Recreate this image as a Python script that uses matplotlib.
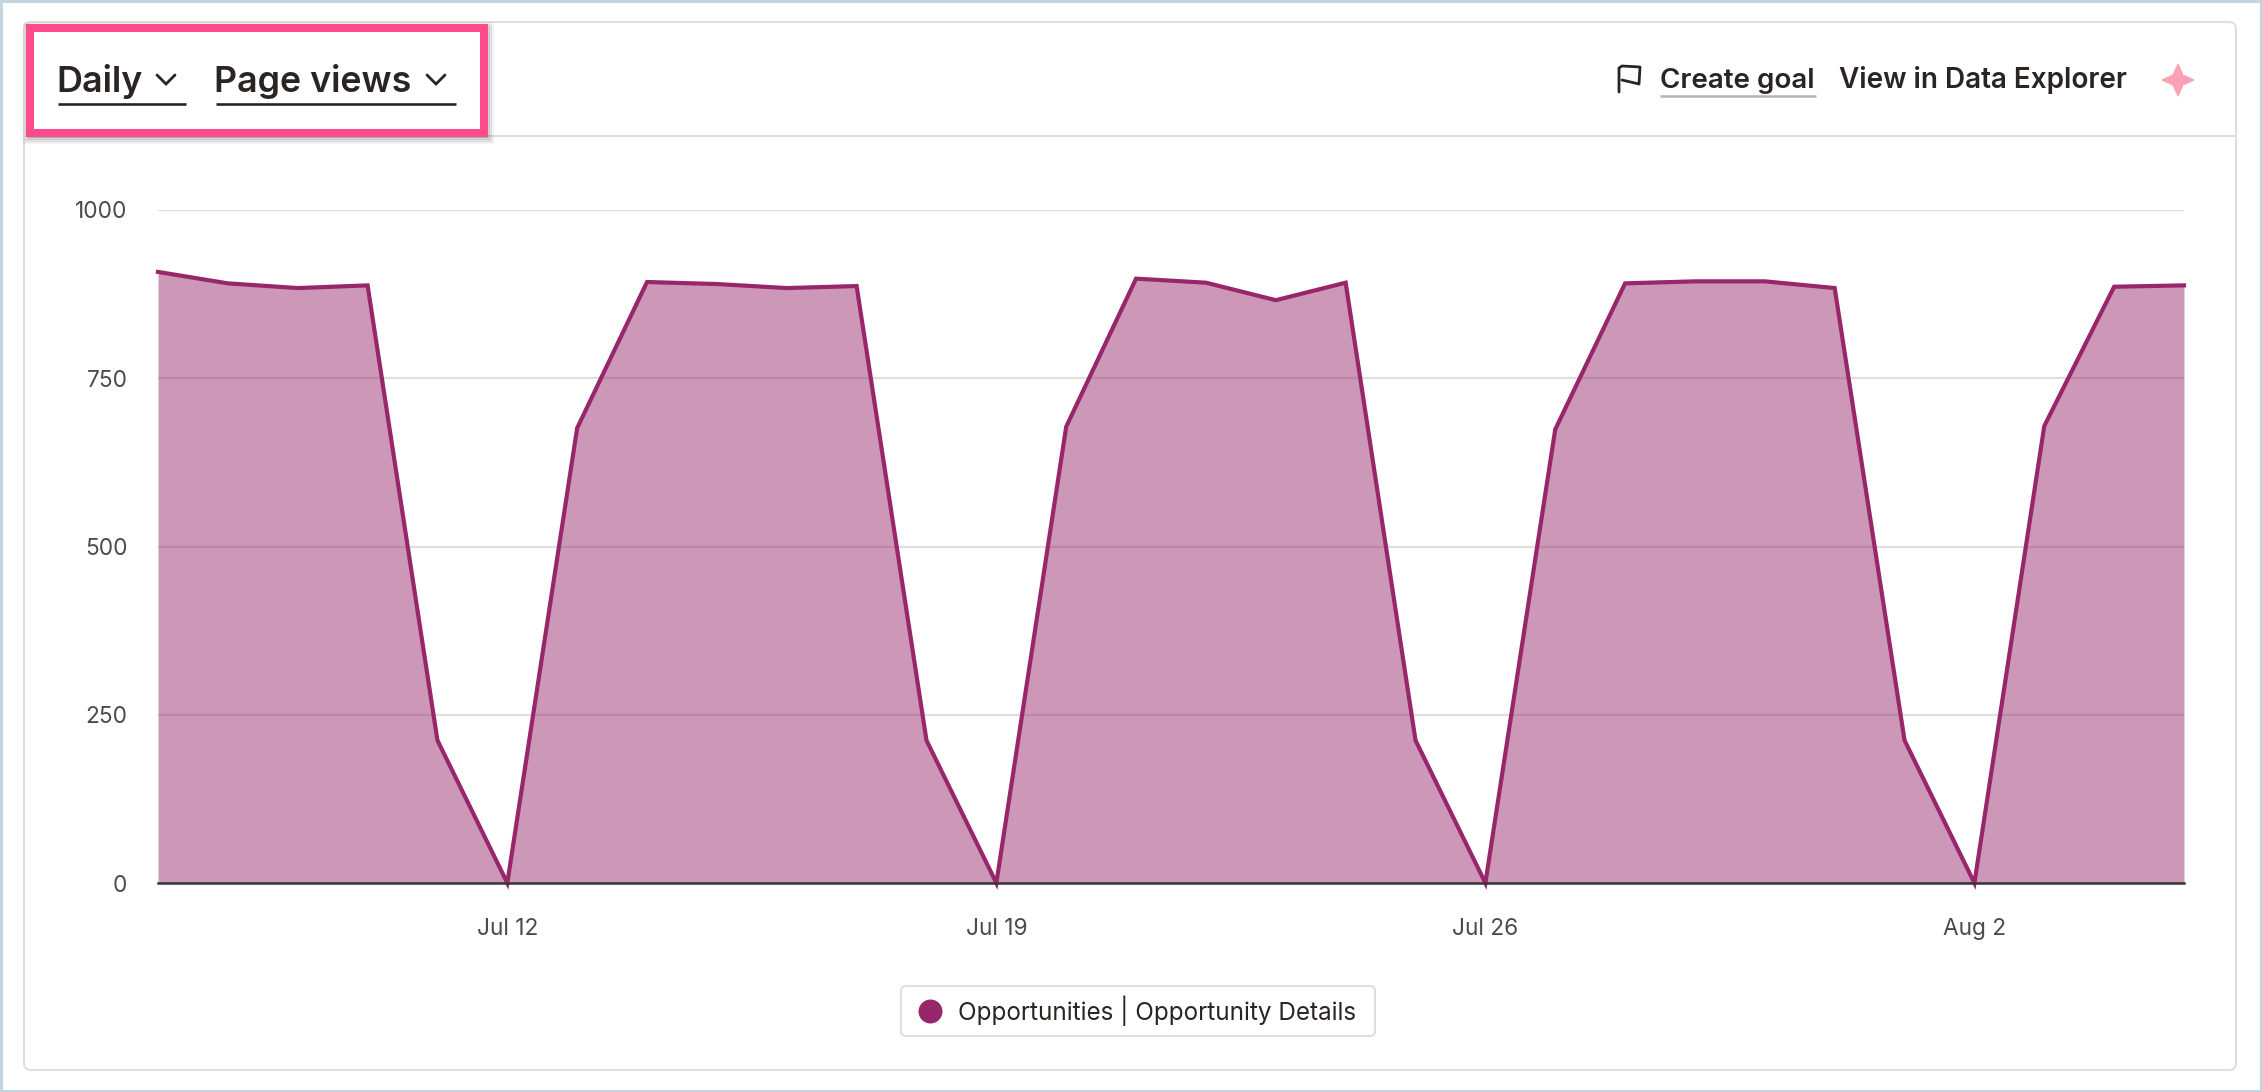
import matplotlib
matplotlib.use("Agg")
import matplotlib.pyplot as plt
import pandas as pd
from matplotlib.patches import FancyBboxPatch, Polygon, Rectangle

plt.rcParams["font.family"] = ["Inter", "DejaVu Sans"]

start_day = "2024-07-07"
page_views = [908, 891, 884, 888, 212, 0, 676, 893, 890, 884, 887, 212, 0, 678, 898,
              892, 866, 892, 212, 0, 674, 891, 894, 894, 884, 212, 0, 679, 886, 888]
series_name = "Opportunities | Opportunity Details"
y_ticks = [0, 250, 500, 750, 1000]
x_tick_days = ["2024-07-12", "2024-07-19", "2024-07-26", "2024-08-02"]
x_tick_labels = ["Jul 12", "Jul 19", "Jul 26", "Aug 2"]

W, H = 2262, 1092
LINE = "#97266b"
GRID = "#e0e0db"
DARK = "#2a2522"
MUTED = "#4f4a4a"
PINK = "#ff4b8b"

days = pd.date_range(start_day, periods=len(page_views), freq="D")

fig = plt.figure(figsize=(W / 100, H / 100), dpi=100, facecolor="white")

# overlay in pixel coordinates for the app chrome round the chart
ui = fig.add_axes([0, 0, 1, 1], zorder=0)
ui.set_xlim(0, W)
ui.set_ylim(H, 0)
ui.axis("off")

ui.add_patch(Rectangle((1, 1), W - 2, H - 2, fill=False, ec="#c5d5e0", lw=2.2))
ui.add_patch(FancyBboxPatch((24, 22), 2212, 1048, boxstyle="round,pad=0,rounding_size=7",
                            fc="white", ec=GRID, lw=1.5))
ui.plot([24, 2236], [136, 136], color=GRID, lw=1.5, solid_capstyle="butt")

# main chart
ax = fig.add_axes([158 / W, (H - 883) / H, (2184 - 158) / W, (883 - 210) / H], zorder=1)
ax.patch.set_alpha(0)
ax.fill_between(days, page_views, 0, color=LINE, alpha=0.48, lw=0, zorder=3)
ax.plot(days, page_views, color=LINE, lw=3.0, zorder=4, solid_joinstyle="miter", clip_on=False)
ax.set_xlim(days[0], days[-1])
ax.set_ylim(0, 1000)
ax.set_yticks(y_ticks)
ax.set_xticks(pd.to_datetime(x_tick_days))
ax.set_xticklabels(x_tick_labels)
ax.tick_params(axis="both", length=0, labelsize=16.3, labelcolor=MUTED)
ax.tick_params(axis="x", pad=25.5)
ax.tick_params(axis="y", pad=22)
ax.grid(axis="y", color=GRID, lw=1.6, zorder=1)
ax.set_axisbelow(True)
for side in ["top", "right", "left"]:
    ax.spines[side].set_visible(False)
ax.spines["bottom"].set_color("#3a3338")
ax.spines["bottom"].set_linewidth(1.8)
ax.spines["bottom"].set_zorder(5)

# overlay above the chart for header and legend
top = fig.add_axes([0, 0, 1, 1], zorder=2)
top.set_xlim(0, W)
top.set_ylim(H, 0)
top.axis("off")

# header selectors
top.text(56, 92, "Daily", fontsize=25.8, fontweight="semibold", color=DARK, va="baseline")
top.text(214, 92, "Page views", fontsize=25.8, fontweight="semibold", color=DARK, va="baseline")
top.plot([58, 186], [104, 104], color=DARK, lw=1.9, solid_capstyle="butt")
top.plot([216, 456], [104, 104], color=DARK, lw=1.9, solid_capstyle="butt")
for cx in [166, 436]:
    top.plot([cx - 9, cx, cx + 9], [75, 84, 75], color=DARK, lw=2.0,
             solid_capstyle="round", solid_joinstyle="miter")

# highlight box with soft shadow
for grow, alpha in [(8, 0.05), (6, 0.10), (4, 0.16), (2, 0.22)]:
    top.add_patch(Rectangle((30 - grow + 2, 28 - grow + 3), 454 + 2 * grow - 2, 105 + 2 * grow - 2,
                            fill=False, ec="black", lw=2, alpha=alpha))
top.add_patch(Rectangle((30, 28), 454, 105, fill=False, ec=PINK, lw=5.8, joinstyle="miter"))

# right hand actions
top.plot([1619, 1619, 1622, 1640, 1639, 1622], [92, 68, 66, 67, 84, 80],
         color=DARK, lw=2.0, solid_joinstyle="round", solid_capstyle="round")
top.text(1660, 88.5, "Create goal", fontsize=20, fontweight="semibold", color=DARK, va="baseline")
top.plot([1660, 1816], [96, 96], color="#b8b3af", lw=1.8, solid_capstyle="butt")
top.text(1839, 88.5, "View in Data Explorer", fontsize=20.1, fontweight="semibold", color=DARK, va="baseline")
top.add_patch(Polygon([(2178, 64), (2183, 75), (2194, 80), (2183, 85), (2178, 96),
                       (2173, 85), (2162, 80), (2173, 75)], closed=True, fc="#ffa0b6", ec="#ffa0b6",
                      lw=0.8, joinstyle="round"))

# legend
top.add_patch(FancyBboxPatch((901, 986), 474, 50, boxstyle="round,pad=0,rounding_size=5",
                             fc="white", ec=GRID, lw=1.5))
top.scatter([930], [1011], s=298, color=LINE, lw=0)
top.text(958, 1008, series_name, fontsize=17.45, color=DARK, va="center_baseline")

fig.savefig("out.png", dpi=100)
